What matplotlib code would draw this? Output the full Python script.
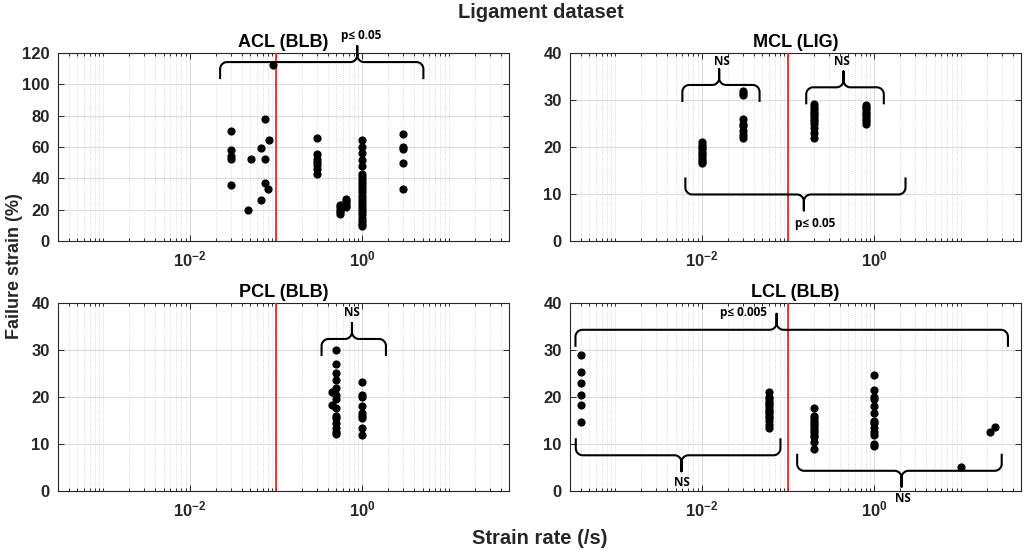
import numpy as np
import matplotlib
matplotlib.use('Agg')
import matplotlib.pyplot as plt
from matplotlib.ticker import FixedLocator, LogLocator, NullFormatter, FuncFormatter

plt.rcParams['font.family'] = ['Liberation Sans', 'DejaVu Sans']
plt.rcParams['mathtext.fontset'] = 'custom'
plt.rcParams['mathtext.rm'] = 'Liberation Sans'
plt.rcParams['mathtext.bf'] = 'Liberation Sans:bold'

# ---- data: strain rate (/s) and failure strain (%) ----
acl_rates = [0.03, 0.048, 0.052, 0.068, 0.075, 0.08, 0.083, 0.092, 0.3, 0.55, 0.65, 1.0, 3.0]
acl_strain = [[70.5, 58.3, 54.5, 52.3, 35.9], [19.6], [52.3], [59.6, 26.0],
              [77.9, 52.3, 37.0], [32.9], [64.5], [112.3],
              [65.8, 55.3, 52.5, 50.5, 48.5, 46.0, 42.5],
              [23.0, 21.5, 20.0, 18.5, 17.0],
              [27.0, 25.5, 24.0, 22.5, 21.5],
              [64.5, 60.0, 56.0, 52.0, 48.0, 43.0, 41.0, 39.0, 37.0, 35.0, 33.0, 31.0,
               29.0, 27.0, 25.0, 23.0, 21.0, 19.0, 17.0, 15.0, 13.0, 11.0, 9.5],
              [68.5, 60.0, 58.5, 49.5, 33.3]]

mcl_rates = [0.01, 0.03, 0.2, 0.8]
mcl_strain = [[16.5, 17.0, 17.5, 18.0, 18.5, 19.0, 19.5, 20.0, 20.5, 21.0],
              [31.5, 32.0, 31.0, 26.0, 25.0, 24.5, 23.5, 22.5, 22.0],
              [22.0, 23.0, 24.0, 25.0, 25.5, 26.0, 26.5, 27.0, 27.5, 28.0, 28.5, 29.2],
              [25.0, 25.5, 26.0, 26.5, 27.0, 27.5, 28.0, 28.5, 29.0]]

pcl_rates = [0.45, 0.5, 1.0]
pcl_strain = [[21.0, 18.3],
              [30.0, 27.0, 25.2, 23.6, 22.0, 20.5, 19.5, 17.6, 16.0, 15.5, 14.5, 13.5, 12.5, 12.2],
              [23.1, 20.5, 20.0, 18.0, 16.5, 16.0, 15.5, 13.5, 11.9]]

lcl_rates = [0.0004, 0.06, 0.2, 1.0, 10.0, 22.0, 24.8]
lcl_strain = [[28.9, 25.4, 23.0, 20.5, 18.3, 14.6],
              [21.0, 20.0, 19.5, 19.0, 18.5, 18.0, 17.5, 17.0, 16.5, 16.0, 15.5, 15.0, 14.0, 13.5],
              [17.6, 16.0, 15.5, 15.0, 14.5, 14.0, 13.5, 13.0, 12.5, 12.0, 11.5, 10.5, 9.0],
              [24.7, 21.5, 20.0, 19.5, 18.0, 16.5, 15.0, 14.5, 13.5, 12.5, 12.0, 10.0, 9.5],
              [5.2], [12.5], [13.7]]

titles = ['ACL (BLB)', 'MCL (LIG)', 'PCL (BLB)', 'LCL (BLB)']
ymaxes = [120, 40, 40, 40]
ysteps = [20, 10, 10, 10]
threshold = 0.1

# braces: (x_left, x_right, x_tip, y_line, direction, label, label_x, label_y)
acl_braces = [(0.0226, 5.1, 0.875, 114.2, 1, 'p≤ 0.05', 0.97, 131.0)]
mcl_braces = [(0.006, 0.047, 0.016, 33.2, 1, 'NS', 0.0174, 38.2),
              (0.163, 1.29, 0.44, 32.7, 1, 'NS', 0.425, 38.2),
              (0.0065, 2.3, 0.153, 9.9, -1, 'p≤ 0.05', 0.206, 3.7)]
pcl_braces = [(0.338, 1.88, 0.76, 32.35, 1, 'NS', 0.76, 37.9)]
lcl_braces = [(3.47e-4, 35.3, 0.074, 34.3, 1, 'p≤ 0.005', 0.031, 37.9),
              (3.5e-4, 0.082, 0.00586, 7.6, -1, 'NS', 0.0060, 1.8),
              (0.128, 29.9, 2.07, 4.3, -1, 'NS', 2.17, -1.6)]


def expand(rates, strains):
    xs, ys = [], []
    for r, s in zip(rates, strains):
        xs += [r] * len(s)
        ys += s
    return xs, ys


def brace(ax, x1, x2, xt, yh, d, e=16, t=16, r=7):
    T = ax.transData
    X1, Yh = T.transform((x1, yh))
    X2 = T.transform((x2, yh))[0]
    Xt = T.transform((xt, yh))[0]

    def arc(cx, cy, a0, a1):
        a = np.linspace(a0, a1, 20)
        return list(zip(cx + r * np.cos(a), cy + r * np.sin(a)))

    pts = [(X1, Yh - d * e)]
    pts += arc(X1 + r, Yh - d * r, np.pi, np.pi - d * np.pi / 2)
    pts += arc(Xt - r, Yh + d * r, -d * np.pi / 2, 0)
    pts.append((Xt, Yh + d * t))
    pts += arc(Xt + r, Yh + d * r, np.pi, np.pi + d * np.pi / 2)
    pts += arc(X2 - r, Yh - d * r, d * np.pi / 2, 0)
    pts.append((X2, Yh - d * e))
    data = T.inverted().transform(np.array(pts))
    ax.plot(data[:, 0], data[:, 1], color='k', lw=1.5, clip_on=False, zorder=5)


fig = plt.figure(figsize=(10.24, 5.53), dpi=100)
W = 451 / 1024
H = 188 / 553
positions = [(58 / 1024, 1 - 241 / 553), (570 / 1024, 1 - 241 / 553),
             (58 / 1024, 1 - 491 / 553), (570 / 1024, 1 - 491 / 553)]
panels = [(acl_rates, acl_strain, acl_braces), (mcl_rates, mcl_strain, mcl_braces),
          (pcl_rates, pcl_strain, pcl_braces), (lcl_rates, lcl_strain, lcl_braces)]

dark = '#262626'
for i, ((rates, strains, braces), pos) in enumerate(zip(panels, positions)):
    ax = fig.add_axes([pos[0], pos[1], W, H])
    ax.set_xscale('log')
    ax.set_xlim(3e-4, 50)
    ax.set_ylim(0, ymaxes[i])
    ax.xaxis.set_major_locator(FixedLocator([1e-2, 1]))
    ax.xaxis.set_major_formatter(FuncFormatter(
        lambda v, p: r'$\mathbf{10^{%d}}$' % int(round(np.log10(v)))))
    ax.xaxis.set_minor_locator(LogLocator(base=10, subs=np.arange(1, 10), numticks=20))
    ax.xaxis.set_minor_formatter(NullFormatter())
    ax.set_yticks(np.arange(0, ymaxes[i] + 1, ysteps[i]))
    ax.grid(True, which='major', color='#dcdcdc', lw=0.8)
    ax.grid(True, which='minor', axis='x', color='#d0d0d0', lw=0.6, ls=':')
    ax.set_axisbelow(True)
    ax.tick_params(which='both', direction='in', top=True, right=True, colors=dark,
                   labelsize=12, width=0.7)
    ax.tick_params(which='major', length=4, pad=6)
    ax.tick_params(which='minor', length=2)
    for lab in ax.get_yticklabels():
        lab.set_fontweight('bold')
    for sp in ax.spines.values():
        sp.set_color(dark)
        sp.set_linewidth(0.8)
    ax.set_title(titles[i], fontsize=13, fontweight='bold', color='black', pad=4)

    xs, ys = expand(rates, strains)
    ax.scatter(xs, ys, s=24, color='black', zorder=4, clip_on=False)
    ax.axvline(threshold, color='#ff2020', lw=1.3, zorder=3)

    for (x1, x2, xt, yh, d, lab, lx, ly) in braces:
        brace(ax, x1, x2, xt, yh, d)
        ax.text(lx, ly, lab, ha='center', va='center', fontsize=8.5, fontweight='bold',
                family=['Open Sans', 'DejaVu Sans'], clip_on=False, zorder=6)

fig.text(0.528, 0.977, 'Ligament dataset', ha='center', va='center', fontsize=14.5,
         fontweight='bold', color=dark)
fig.text(0.014, 0.519, 'Failure strain (%)', ha='center', va='center', rotation=90,
         fontsize=13, fontweight='bold', color=dark)
fig.text(0.527, 0.027, 'Strain rate (/s)', ha='center', va='center', fontsize=14.5,
         fontweight='bold', color=dark)

fig.savefig('out.png', dpi=100)
